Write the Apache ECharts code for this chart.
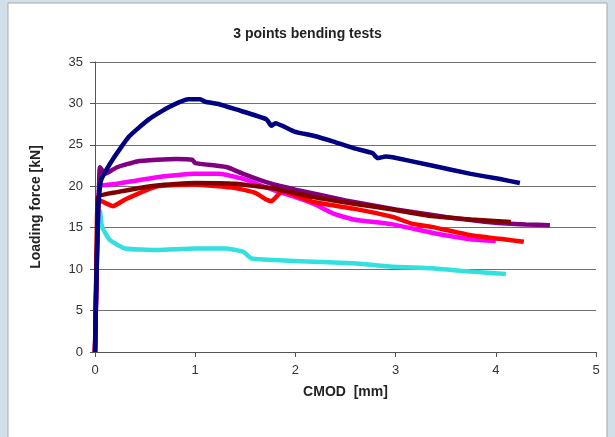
<!DOCTYPE html>
<html>
<head>
<meta charset="utf-8">
<script src="https://cdn.jsdelivr.net/npm/echarts@6/dist/echarts.min.js"></script>
<style>
  html, body { margin: 0; padding: 0; background: #d3dfe8; }
  #chart { width: 615px; height: 437px; }
</style>
</head>
<body>
<div id="chart"></div>
<script>
// CMOD [mm], force [kN] pairs
var navyData = [[0,0],[0.03,17],[0.06,20.7],[0.18,23.3],[0.34,26],[0.54,28.1],[0.73,29.5],[0.93,30.5],[1.05,30.5],[1.1,30.2],[1.24,29.9],[1.4,29.3],[1.71,28.1],[1.76,27.3],[1.8,27.6],[1.99,26.6],[2.18,26.1],[2.38,25.4],[2.58,24.6],[2.77,24],[2.82,23.4],[2.9,23.6],[2.97,23.5],[3.36,22.5],[3.75,21.5],[4.03,20.9],[4.24,20.4]];
var purpleData = [[0,0],[0.02,12],[0.04,20],[0.05,22.3],[0.1,21.5],[0.22,22.3],[0.42,23],[0.62,23.2],[0.81,23.3],[0.97,23.2],[1.0,22.8],[1.2,22.5],[1.32,22.3],[1.48,21.5],[1.71,20.5],[2.0,19.6],[2.5,18.3],[3.0,17.2],[3.5,16.3],[4.0,15.6],[4.3,15.4],[4.54,15.3]];
var darkRedData = [[0,0],[0.02,14],[0.03,18.7],[0.22,19.3],[0.62,20.1],[1.0,20.4],[1.4,20.3],[1.8,19.7],[2.18,18.7],[2.58,17.9],[2.97,17.2],[3.36,16.4],[3.75,16],[4.15,15.7]];
var magentaData = [[0,0],[0.03,17],[0.05,20],[0.22,20.3],[0.62,21.1],[1.0,21.5],[1.24,21.5],[1.48,20.9],[1.79,19.5],[2.0,18.7],[2.18,17.9],[2.38,16.7],[2.58,16],[2.97,15.4],[3.36,14.4],[3.75,13.6],[4.0,13.4]];
var redData = [[0,0],[0.02,15],[0.03,18.4],[0.1,18],[0.18,17.6],[0.3,18.4],[0.62,20],[1.0,20.2],[1.4,19.8],[1.6,19.2],[1.71,18.4],[1.76,18.2],[1.87,19.4],[2.18,18.1],[2.58,17.3],[2.97,16.3],[3.16,15.5],[3.36,15.1],[3.75,14.1],[4.15,13.5],[4.28,13.3]];
var cyanData = [[0.03,15],[0.05,17],[0.07,15.1],[0.15,13.5],[0.3,12.5],[0.62,12.3],[1.0,12.5],[1.3,12.5],[1.48,12.1],[1.56,11.3],[1.79,11.1],[2.18,10.9],[2.58,10.7],[2.97,10.3],[3.36,10.1],[3.75,9.7],[4.1,9.4]];

// drawing order: first drawn ends up underneath
var seriesNames = ['Test 6', 'Test 4', 'Test 5', 'Test 2', 'Test 3', 'Test 1'];
var seriesColors = ['#33e0e0', '#ff00ff', '#ff0000', '#800080', '#800000', '#000080'];
var seriesData = [cyanData, magentaData, redData, purpleData, darkRedData, navyData];

var myChart = echarts.init(document.getElementById('chart'));

var option = {
    backgroundColor: 'transparent',
    animation: false,
    graphic: [{
        type: 'rect',
        shape: { x: 8, y: 3, width: 599, height: 440 },
        style: { fill: '#fff', stroke: '#a8a8a8', lineWidth: 1 },
        z: -10
    }],
    title: {
        text: '3 points bending tests',
        left: 'center',
        top: 22,
        textStyle: { fontFamily: 'Arial', fontSize: 14, fontWeight: 'bold', color: '#222' }
    },
    grid: { left: 95, right: 19, top: 62, bottom: 85 },
    xAxis: {
        type: 'value',
        min: 0, max: 5, interval: 1,
        name: 'CMOD  [mm]',
        nameLocation: 'middle',
        nameGap: 33,
        nameTextStyle: { fontFamily: 'Arial', fontSize: 14, fontWeight: 'bold', color: '#222' },
        axisLine: { lineStyle: { color: '#555' } },
        axisTick: { show: true, length: 5, lineStyle: { color: '#555' } },
        axisLabel: { fontFamily: 'Arial', fontSize: 13, color: '#333', margin: 12 },
        splitLine: { show: false }
    },
    yAxis: {
        type: 'value',
        min: 0, max: 35, interval: 5,
        name: 'Loading force [kN]',
        nameLocation: 'middle',
        nameGap: 52,
        nameTextStyle: { fontFamily: 'Arial', fontSize: 14, fontWeight: 'bold', color: '#222' },
        axisLine: { show: true, lineStyle: { color: '#555' } },
        axisTick: { show: true, length: 5, lineStyle: { color: '#555' } },
        axisLabel: { fontFamily: 'Arial', fontSize: 13, color: '#333', margin: 12 },
        splitLine: { lineStyle: { color: '#707070', width: 1 } }
    },
    series: seriesData.map(function (d, i) {
        return {
            name: seriesNames[i],
            type: 'line',
            data: d,
            showSymbol: false,
            smooth: 0.15,
            lineStyle: { color: seriesColors[i], width: 4.5 },
            itemStyle: { color: seriesColors[i] }
        };
    })
};

myChart.setOption(option);
</script>
</body>
</html>
